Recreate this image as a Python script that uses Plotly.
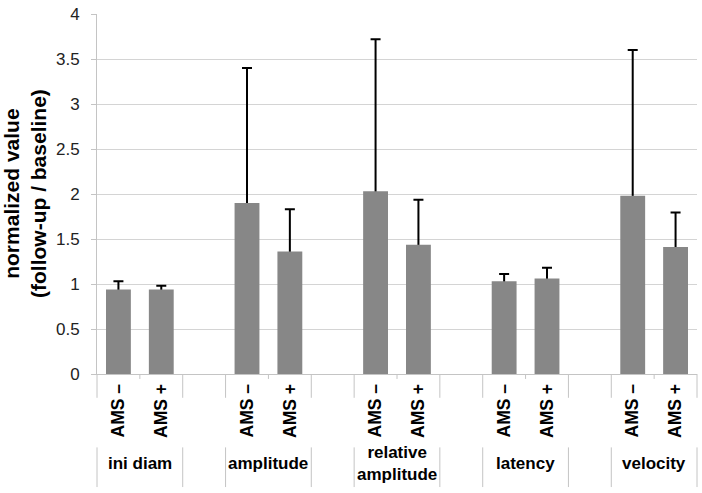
import plotly.graph_objects as go

groups = ["ini diam", "amplitude", "relative<br>amplitude", "latency", "velocity"]
subs = ["AMS –", "AMS +"]
ams_minus = [0.94, 1.90, 2.03, 1.03, 1.98]
ams_minus_err = [0.09, 1.50, 1.69, 0.08, 1.62]
ams_plus = [0.94, 1.36, 1.435, 1.06, 1.41]
ams_plus_err = [0.04, 0.47, 0.50, 0.12, 0.385]

n_slots = len(groups) * 3 - 1
x_minus = [3 * i for i in range(len(groups))]
x_plus = [3 * i + 1 for i in range(len(groups))]
xs = x_minus + x_plus
vals = ams_minus + ams_plus
errs = ams_minus_err + ams_plus_err

W, H = 702, 493
ml, mr, mt, mb = 97, 5, 11, 119
ph = H - mt - mb
bar_color = "#878787"
line_gray = "#c4c4c4"
font_fam = "Liberation Sans, Arial, sans-serif"

fig = go.Figure()
# error bars (drawn beneath the bars so only the upper part shows)
fig.add_trace(go.Bar(
    x=xs, y=vals, width=0.58,
    marker=dict(color="rgba(0,0,0,0)", line=dict(width=0)),
    error_y=dict(type="data", symmetric=False, array=errs, arrayminus=vals,
                 color="black", thickness=2, width=5),
    showlegend=False, hoverinfo="skip"))
fig.add_trace(go.Bar(
    x=xs, y=vals, width=0.58,
    marker=dict(color=bar_color, line=dict(width=0)),
    showlegend=False))

def xp(v):
    return (v + 0.5) / n_slots

def yp(px):
    return -(px) / ph

shapes = []
bounds = sorted(set([-0.5] + [3 * i + 1.5 for i in range(len(groups))] + [3 * i + 2.5 for i in range(len(groups) - 1)]))
for b in bounds:
    shapes.append(dict(type="line", xref="paper", yref="paper", x0=xp(b), x1=xp(b),
                       y0=0, y1=yp(24), line=dict(color=line_gray, width=1)))
    shapes.append(dict(type="line", xref="paper", yref="paper", x0=xp(b), x1=xp(b),
                       y0=yp(74), y1=yp(114), line=dict(color=line_gray, width=1)))
for i in range(len(groups)):
    b = 3 * i + 0.5
    shapes.append(dict(type="line", xref="paper", yref="paper", x0=xp(b), x1=xp(b),
                       y0=0, y1=yp(5), line=dict(color=line_gray, width=1)))

annotations = []
for i, g in enumerate(groups):
    annotations.append(dict(text=g, xref="paper", yref="paper", x=xp(3 * i + 0.5), y=yp(90),
                            xanchor="center", yanchor="middle", showarrow=False,
                            font=dict(family=font_fam, size=17, color="black", weight="bold")))
annotations.append(dict(text="normalized value<br>(follow-up / baseline)", textangle=-90,
                        xref="paper", yref="paper", x=(25 - ml) / (W - ml - mr), y=0.5,
                        xanchor="center", yanchor="middle", showarrow=False,
                        font=dict(family=font_fam, size=21, color="black", weight="bold")))

fig.update_layout(
    width=W, height=H,
    margin=dict(l=ml, r=mr, t=mt, b=mb),
    paper_bgcolor="white", plot_bgcolor="white",
    barmode="overlay",
    font=dict(family=font_fam, color="black"),
    shapes=shapes, annotations=annotations,
    xaxis=dict(range=[-0.5, n_slots - 0.5], tickmode="array",
               tickvals=xs, ticktext=[subs[0]] * len(groups) + [subs[1]] * len(groups),
               tickangle=-90, ticks="", showgrid=False, zeroline=False,
               showline=True, linecolor=line_gray, linewidth=1,
               ticklabelstandoff=2,
               tickfont=dict(family=font_fam, size=17.5, color="black", weight="bold")),
    yaxis=dict(range=[0, 4], dtick=0.5, tick0=0, showgrid=True, gridcolor="#d4d4d4", gridwidth=1,
               zeroline=False, showline=True, linecolor=line_gray, linewidth=1,
               ticks="outside", ticklen=5, tickcolor=line_gray,
               ticklabelstandoff=8,
               tickfont=dict(family=font_fam, size=17, color="#222222")),
)
fig.write_html("out.html", config={"displayModeBar": False},
               post_script="document.body.style.margin='0';")
